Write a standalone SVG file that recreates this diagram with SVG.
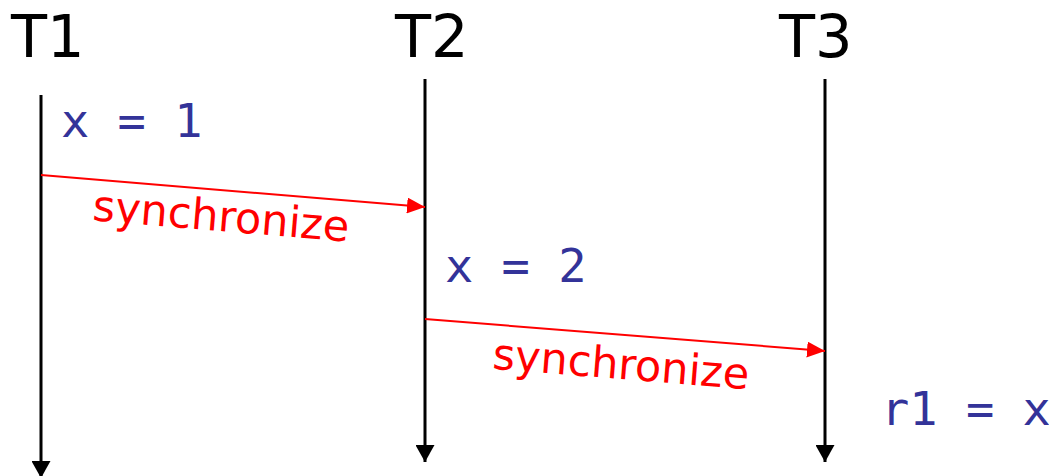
<svg xmlns="http://www.w3.org/2000/svg" width="1049" height="476" viewBox="0 0 1049 476">
<style>
.title{font-family:"DejaVu Sans",sans-serif;font-size:59px;fill:#000}
.code{font-family:"DejaVu Sans Mono",monospace;font-size:47px;fill:#333399}
.sync{font-family:"DejaVu Sans",sans-serif;font-size:43px;fill:#ff0000}
.life{stroke:#000;stroke-width:3;fill:none}
.msg{stroke:#ff0000;stroke-width:2;fill:none}
</style>
<defs>
<marker id="ab" markerUnits="userSpaceOnUse" markerWidth="18" markerHeight="19" refX="17" refY="9.5" orient="auto" viewBox="0 0 18 19">
<path d="M0,0 L17,9.5 L0,19 Z" fill="#000"/>
</marker>
<marker id="ar" markerUnits="userSpaceOnUse" markerWidth="19" markerHeight="16" refX="18" refY="8" orient="auto" viewBox="0 0 19 16">
<path d="M0,0 L18,8 L0,16 Z" fill="#ff0000"/>
</marker>
</defs>
<g id="T1">
<text class="title" x="11" y="57">T1</text>
<path class="life" d="M41,95 L41,478" marker-end="url(#ab)"/>
<text class="code" x="61" y="137">x = 1</text>
</g>
<g id="T2">
<text class="title" x="395" y="57">T2</text>
<path class="life" d="M425,79 L425,462" marker-end="url(#ab)"/>
<text class="code" x="445" y="282">x = 2</text>
</g>
<g id="T3">
<text class="title" x="779" y="57">T3</text>
<path class="life" d="M825,79 L825,462" marker-end="url(#ab)"/>
<text class="code" x="881" y="425">r1 = x</text>
</g>
<g id="connectors">
<path class="msg" d="M41,175 L425,207" marker-end="url(#ar)"/>
<text class="sync" x="220" y="231" text-anchor="middle" transform="rotate(4.76 220 231)">synchronize</text>
<path class="msg" d="M425,319 L825,351" marker-end="url(#ar)"/>
<text class="sync" x="620" y="379" text-anchor="middle" transform="rotate(4.57 620 379)">synchronize</text>
</g>
</svg>
